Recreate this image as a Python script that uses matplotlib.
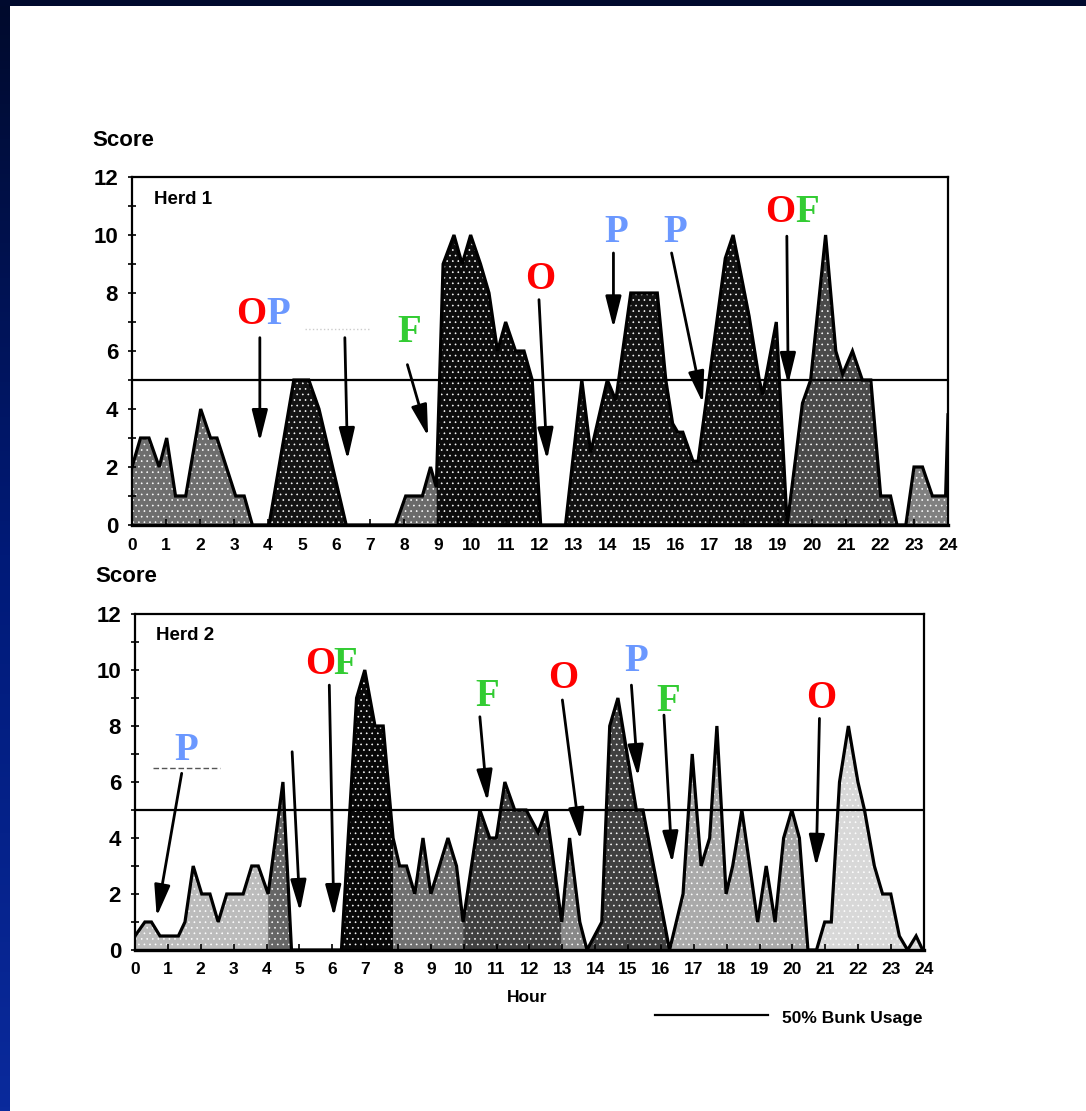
import numpy as np
import matplotlib
matplotlib.use("Agg")
import matplotlib.pyplot as plt
from matplotlib.lines import Line2D
from matplotlib.colors import LinearSegmentedColormap

plt.rcParams['font.family'] = ['Liberation Sans', 'DejaVu Sans']
plt.rcParams['hatch.linewidth'] = 0.45

# ---------------- data ----------------
hours_ticks = list(range(0, 25))
score_ticks = list(range(0, 13))
score_labels = [str(v) if v % 2 == 0 else '' for v in score_ticks]
bunk_50 = 5

h1_hour = [0, 0.25, 0.5, 0.8, 1.02, 1.28, 1.58, 2.02, 2.31, 2.5, 3.05, 3.3, 3.54,
           4.03, 4.76, 5.2, 5.5, 6.3, 7.75, 8.05, 8.54, 8.78, 8.95, 9.15, 9.47,
           9.71, 9.96, 10.25, 10.5, 10.75, 10.99, 11.28, 11.53, 11.77, 12.02,
           12.75, 13.23, 13.49, 13.98, 14.23, 14.67, 15.45, 15.7, 15.9, 16.05,
           16.2, 16.5, 16.65, 17.45, 17.68, 17.85, 18.15, 18.45, 18.55, 18.95,
           19.27, 19.72, 19.96, 20.4, 20.7, 20.9, 21.19, 21.48, 21.73, 22.02,
           22.31, 22.5, 22.76, 23.0, 23.25, 23.54, 23.93, 24.0]
h1_score = [2, 3, 3, 2, 3, 1, 1, 4, 3, 3, 1, 1, 0,
            0, 5, 5, 4, 0, 0, 1, 1, 2, 1.3, 9, 10,
            9, 10, 9, 8, 6, 7, 6, 6, 5, 0,
            0, 5, 2.5, 5, 4.3, 8, 8, 5, 3.5, 3.2,
            3.2, 2.2, 2.2, 9.2, 10, 9, 7.2, 5, 4.5, 7,
            0, 4.2, 5, 10, 6, 5.2, 6, 5, 5, 1,
            1, 0, 0, 2, 2, 1, 1, 3.8]

h2_hour = [0, 0.3, 0.5, 0.76, 1.32, 1.52, 1.77, 2.03, 2.28, 2.53, 2.79, 3.29,
           3.55, 3.75, 4.05, 4.5, 4.76, 6.28, 6.74, 6.99, 7.3, 7.55, 7.85, 8.05,
           8.26, 8.51, 8.76, 9.0, 9.52, 9.78, 9.98, 10.49, 10.79, 10.99, 11.25,
           11.55, 11.9, 12.26, 12.51, 12.98, 13.22, 13.53, 13.75, 14.2, 14.44,
           14.69, 15.25, 15.45, 16.26, 16.67, 16.95, 17.22, 17.48, 17.7, 17.98,
           18.18, 18.46, 18.94, 19.2, 19.47, 19.73, 19.98, 20.21, 20.47, 20.73,
           20.98, 21.18, 21.43, 21.7, 21.99, 22.19, 22.49, 22.74, 22.99, 23.25,
           23.5, 23.76, 23.96, 24.0]
h2_score = [0.5, 1, 1, 0.5, 0.5, 1, 3, 2, 2, 1, 2, 2,
            3, 3, 2, 6, 0, 0, 9, 10, 8, 8, 4, 3,
            3, 2, 4, 2, 4, 3, 1, 5, 4, 4, 6,
            5, 5, 4.2, 5, 1, 4, 1, 0, 1, 8,
            9, 5, 5, 0, 2, 7, 3, 4, 8, 2,
            3, 5, 1, 3, 1, 4, 5, 4, 0, 0,
            1, 1, 6, 8, 6, 5, 3, 2, 2, 0.5,
            0, 0.5, 0, 0]

# annotation letters: (text, colour, hour, score)
h1_letters = [('O', 'red', 3.5, 7.25), ('P', 'blue', 4.29, 7.25), ('F', 'green', 8.15, 6.63),
              ('O', 'red', 12.0, 8.46), ('P', 'blue', 14.24, 10.09), ('P', 'blue', 15.97, 10.09),
              ('O', 'red', 19.06, 10.78), ('F', 'green', 19.85, 10.78)]
h2_letters = [('P', 'blue', 1.55, 7.14), ('O', 'red', 5.62, 10.21), ('F', 'green', 6.41, 10.21),
              ('F', 'green', 10.73, 9.07), ('O', 'red', 13.01, 9.68), ('P', 'blue', 15.26, 10.32),
              ('F', 'green', 16.23, 8.89), ('O', 'red', 20.88, 9.0)]
# arrows: (tail hour, tail score, head hour, head score)
h1_arrows = [(3.76, 6.46, 3.76, 2.87), (6.26, 6.46, 6.34, 2.25), (8.1, 5.53, 8.71, 3.05),
             (11.97, 7.77, 12.21, 2.25), (14.16, 9.38, 14.16, 6.79), (15.87, 9.38, 16.79, 4.2),
             (19.26, 9.96, 19.3, 4.84)]
h2_arrows = [(1.42, 6.31, 0.66, 1.19), (4.78, 7.08, 5.02, 1.37), (5.91, 9.46, 6.05, 1.19),
             (10.49, 8.33, 10.72, 5.3), (13.0, 8.93, 13.55, 3.93), (15.1, 9.46, 15.3, 6.19),
             (16.09, 8.39, 16.34, 3.1), (20.82, 8.27, 20.72, 2.98)]

# ---------------- style ----------------
letter_colors = {'red': '#ff0000', 'blue': '#6b98ff', 'green': '#33cc33'}
h1_bands = [(0, 3.54, '#6e6e6e'), (4.03, 6.3, '#141414'), (7.75, 8.95, '#6a6a6a'),
            (8.95, 12.02, '#0c0c0c'), (12.75, 19.27, '#121212'), (19.27, 22.5, '#4a4a4a'),
            (22.76, 24.0, '#808080')]
h2_bands = [(0, 4.05, '#bcbcbc'), (4.05, 4.76, '#666666'), (6.28, 7.85, '#080808'),
            (7.85, 9.98, '#707070'), (9.98, 12.98, '#404040'), (12.98, 13.75, '#888888'),
            (13.75, 16.26, '#404040'), (16.26, 20.47, '#aaaaaa'), (20.73, 24.0, '#d8d8d8')]

W, H = 1086, 1111
fig = plt.figure(figsize=(W / 100, H / 100), dpi=100)
fig.patch.set_facecolor('white')

# background frame (blue bands)
bg = fig.add_axes([0, 0, 1, 1], zorder=-10)
bg.set_xlim(0, W); bg.set_ylim(H, 0); bg.axis('off')
grad = np.linspace(0, 1, 256).reshape(-1, 1)
cmap = LinearSegmentedColormap.from_list('b', ['#000a2c', '#001a78', '#0a2a9c'])
bg.imshow(grad, cmap=cmap, extent=[0, 10, H, 0], aspect='auto')
bg.add_patch(plt.Rectangle((0, 0), W, 6, color='#000a2e', lw=0))


def px_axes(l, t, r, b):
    return [l / W, 1 - b / H, (r - l) / W, (b - t) / H]


def draw_panel(rect, hours, scores, bands, letters, arrows, herd):
    ax = fig.add_axes(rect)
    x = np.array(hours); y = np.array(scores)
    for a, b, c in bands:
        m = (x >= a) & (x <= b)
        ax.fill_between(x[m], y[m], 0, facecolor=c, edgecolor='white', hatch='...',
                        linewidth=0, zorder=1)
    ax.plot(x, y, color='black', lw=2.3, zorder=3, solid_joinstyle='miter')
    ax.axhline(bunk_50, color='black', lw=1.6, zorder=4)
    ax.set_xlim(0, 24); ax.set_ylim(0, 12)
    ax.set_xticks(hours_ticks)
    ax.set_xticklabels([str(h) for h in hours_ticks], fontsize=12.5, fontweight='bold')
    ax.set_yticks(score_ticks)
    ax.set_yticklabels(score_labels, fontsize=16, fontweight='bold')
    ax.tick_params(axis='x', direction='in', length=4, width=1.2, pad=9)
    ax.tick_params(axis='y', direction='inout', length=6, width=1.2, pad=7)
    for s in ax.spines.values():
        s.set_linewidth(1.6)
    ax.spines['bottom'].set_linewidth(2.4)
    ax.text(0.027, 0.935, herd, transform=ax.transAxes, fontsize=13.5,
            fontweight='bold', ha='left', va='center')
    for ch, col, hx, sy in letters:
        ax.text(hx, sy, ch, color=letter_colors[col], fontsize=28, fontweight='bold',
                family=['Liberation Serif', 'DejaVu Serif'], ha='center', va='center', zorder=6)
    for tx, ty, hx, hy in arrows:
        ax.annotate('', xy=(hx, hy), xytext=(tx, ty),
                    arrowprops=dict(arrowstyle='-|>,head_length=0.8,head_width=0.2',
                                    color='black', lw=2, mutation_scale=24,
                                    shrinkA=0, shrinkB=0), zorder=6)
    return ax


ax1 = draw_panel(px_axes(132, 177, 948, 525), h1_hour, h1_score, h1_bands,
                 h1_letters, h1_arrows, 'Herd 1')
ax2 = draw_panel(px_axes(135, 614, 924, 950), h2_hour, h2_score, h2_bands,
                 h2_letters, h2_arrows, 'Herd 2')

# faint scan remnants
ax1.plot([5.1, 7.0], [6.75, 6.75], color='#cccccc', lw=1, ls=':', zorder=2)
ax2.plot([0.55, 2.6], [6.5, 6.5], color='#555555', lw=1, ls=(0, (4, 2)), zorder=2)

fig.text(92 / W, 1 - 140 / H, 'Score', fontsize=16, fontweight='bold', ha='left', va='center')
fig.text(95 / W, 1 - 577 / H, 'Score', fontsize=16, fontweight='bold', ha='left', va='center')
fig.text(527 / W, 1 - 997 / H, 'Hour', fontsize=12.5, fontweight='bold', ha='center', va='center')

# legend
fig.add_artist(Line2D([655 / W, 768 / W], [1 - 1015 / H, 1 - 1015 / H], color='black', lw=1.6))
fig.text(782 / W, 1 - 1018 / H, '50% Bunk Usage', fontsize=12.5, fontweight='bold',
         ha='left', va='center')

fig.savefig('out.png', dpi=100, facecolor='white')
